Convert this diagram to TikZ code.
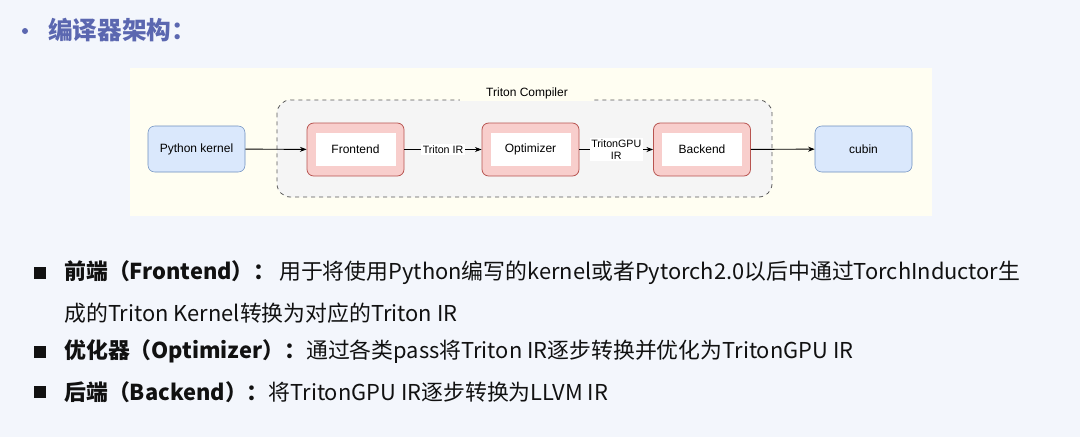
\documentclass[tikz,border=0pt]{standalone}
\usepackage{fontspec}
\usetikzlibrary{arrows.meta}
\setmainfont{Noto Sans CJK SC}
\newfontfamily\cjk{Noto Sans CJK SC}
\newfontfamily\dia{Liberation Sans}
\definecolor{bg}{HTML}{F3F6FC}
\definecolor{head}{HTML}{5B67B0}
\definecolor{bluef}{HTML}{DAE8FC}
\definecolor{blued}{HTML}{6C8EBF}
\definecolor{redf}{HTML}{F8CECC}
\definecolor{redd}{HTML}{B85450}
\definecolor{txt}{HTML}{111111}
\tikzset{
 bluebox/.style={draw=blued,fill=bluef,rounded corners=5pt,minimum width=72.75pt,minimum height=34.5pt,font=\dia\fontsize{9}{10}\selectfont},
 redbox/.style={draw=redd,fill=redf,rounded corners=5pt,minimum width=72.75pt,minimum height=39.75pt,line width=0.6pt},
 innerbox/.style={fill=white,minimum width=60pt,minimum height=24.75pt,font=\dia\fontsize{9}{10}\selectfont},
 arr/.style={-{Stealth[length=5pt]},line width=0.7pt},
 lab/.style={fill=white,inner sep=1pt,font=\dia\fontsize{8}{9}\selectfont,align=center},
 body/.style={anchor=west,inner sep=0pt,font=\fontsize{16.4}{18}\selectfont,text=txt},
 sq/.style={fill=txt,minimum size=9pt,inner sep=0pt}
}
\begin{document}
\begin{tikzpicture}[x=0.75pt,y=-0.75pt]
\useasboundingbox (0,0) rectangle (1080,437);
\fill[bg] (0,0) rectangle (1080,437);
\fill[head] (25,31) circle (3);
\node[anchor=west,inner sep=0pt,text=head,font=\bfseries\fontsize{18.5}{20}\selectfont] (h) at (48,30) {编译器架构：};
\fill[white!95!yellow] (130,68) rectangle (932,216);
\draw[dashed,draw=gray!70!black,fill=black!4,rounded corners=10pt,line width=0.6pt] (277,100) rectangle (772,197);
\node[fill=white!95!yellow,inner sep=2pt,minimum width=100pt,font=\dia\fontsize{9}{10}\selectfont] (tc) at (527,93) {Triton Compiler};
\node[bluebox] (py) at (196.5,149) {Python kernel};
\node[redbox] (fe) at (355.5,149.5) {};
\node[innerbox] at (fe) {Frontend};
\node[redbox] (op) at (530.5,149.5) {};
\node[innerbox] at (op) {Optimizer};
\node[redbox] (be) at (702,149.5) {};
\node[innerbox] at (be) {Backend};
\node[bluebox] (cu) at (863.5,149) {cubin};
\draw[arr] (py) -- (fe);
\draw[arr] (fe) -- node[lab] (l1) {Triton IR} (op);
\draw[arr] (op) -- node[lab] (l2) {TritonGPU\\IR} (be);
\draw[arr] (be) -- (cu);
\node[sq] (s1) at (40,273) {};
\node[body] (t1) at (64,273) {\textbf{前端（Frontend）：}\,用于将使用Python编写的kernel或者Pytorch2.0以后中通过TorchInductor生};
\node[body] (t1b) at (64,313) {成的Triton Kernel转换为对应的Triton IR};
\node[sq] (s2) at (40,352) {};
\node[body] (t2) at (64,352) {\textbf{优化器（Optimizer）：}通过各类pass将Triton IR逐步转换并优化为TritonGPU IR};
\node[sq] (s3) at (40,392) {};
\node[body] (t3) at (64,392) {\textbf{后端（Backend）：}将TritonGPU IR逐步转换为LLVM IR};
\end{tikzpicture}
\end{document}
